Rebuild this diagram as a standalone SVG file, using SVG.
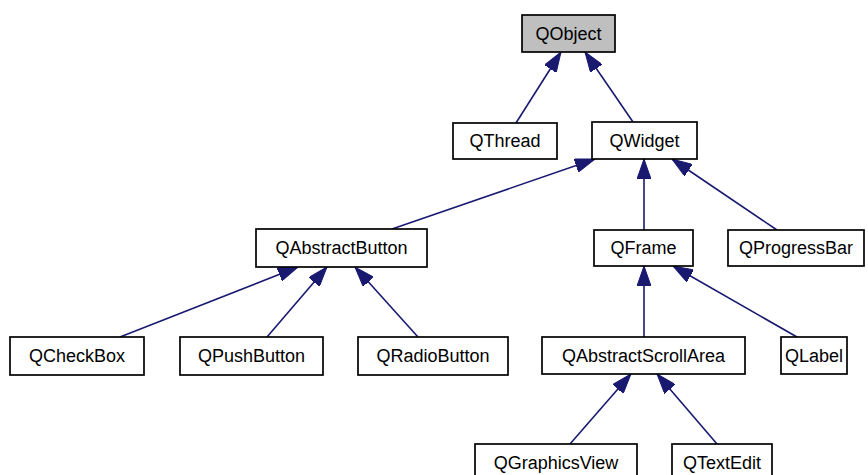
<svg xmlns="http://www.w3.org/2000/svg" width="868" height="475" viewBox="0 0 868 475">
<style>
.box{fill:#fff;stroke:#000;stroke-width:1.7}
.root{fill:#bfbfbf}
.lbl{font-family:"Liberation Sans",Arial,sans-serif;font-size:18px;fill:#000;text-anchor:middle}
.edge{stroke:#191970;stroke-width:1.6;fill:none;marker-end:url(#arr)}
</style>
<defs>
<marker id="arr" viewBox="0 0 20 14" refX="20" refY="7" markerWidth="20" markerHeight="14" markerUnits="userSpaceOnUse" orient="auto">
<path d="M0,0 L20,7 L0,14 z" fill="#191970" stroke="#191970" stroke-width="1"/>
</marker>
</defs>
<rect width="868" height="475" fill="#fff"/>
<g id="connectors">
<line class="edge" x1="516" y1="123" x2="561" y2="52"/>
<line class="edge" x1="633" y1="122" x2="585" y2="52"/>
<line class="edge" x1="392" y1="229" x2="595" y2="159"/>
<line class="edge" x1="644" y1="230" x2="644" y2="159"/>
<line class="edge" x1="777" y1="230" x2="672" y2="159"/>
<line class="edge" x1="120" y1="337" x2="298" y2="267"/>
<line class="edge" x1="267" y1="337" x2="327" y2="267"/>
<line class="edge" x1="418" y1="337" x2="355" y2="267"/>
<line class="edge" x1="644" y1="337" x2="644" y2="266"/>
<line class="edge" x1="797" y1="337" x2="673" y2="266"/>
<line class="edge" x1="570" y1="444" x2="631" y2="374"/>
<line class="edge" x1="717" y1="444" x2="657" y2="374"/>
</g>
<g id="QObject"><rect class="box root" x="522" y="15" width="93" height="37"/><text class="lbl" x="568.5" y="40">QObject</text></g>
<g id="QThread"><rect class="box" x="453" y="123" width="104" height="36"/><text class="lbl" x="505" y="147">QThread</text></g>
<g id="QWidget"><rect class="box" x="592" y="122" width="105" height="37"/><text class="lbl" x="644.5" y="147">QWidget</text></g>
<g id="QAbstractButton"><rect class="box" x="256" y="229" width="171" height="38"/><text class="lbl" x="341.5" y="254">QAbstractButton</text></g>
<g id="QFrame"><rect class="box" x="594" y="230" width="99" height="36"/><text class="lbl" x="643.5" y="254">QFrame</text></g>
<g id="QProgressBar"><rect class="box" x="728" y="230" width="136" height="36"/><text class="lbl" x="796" y="254">QProgressBar</text></g>
<g id="QCheckBox"><rect class="box" x="10" y="337" width="134" height="38"/><text class="lbl" x="77" y="362">QCheckBox</text></g>
<g id="QPushButton"><rect class="box" x="180" y="337" width="143" height="38"/><text class="lbl" x="251.5" y="362">QPushButton</text></g>
<g id="QRadioButton"><rect class="box" x="358" y="337" width="150" height="38"/><text class="lbl" x="433" y="362">QRadioButton</text></g>
<g id="QAbstractScrollArea"><rect class="box" x="542" y="337" width="203" height="37"/><text class="lbl" x="643.5" y="362">QAbstractScrollArea</text></g>
<g id="QLabel"><rect class="box" x="781" y="337" width="66" height="37"/><text class="lbl" x="814" y="362">QLabel</text></g>
<g id="QGraphicsView"><rect class="box" x="475" y="444" width="162" height="38"/><text class="lbl" x="556" y="469">QGraphicsView</text></g>
<g id="QTextEdit"><rect class="box" x="672" y="444" width="100" height="38"/><text class="lbl" x="722" y="469">QTextEdit</text></g>
</svg>
